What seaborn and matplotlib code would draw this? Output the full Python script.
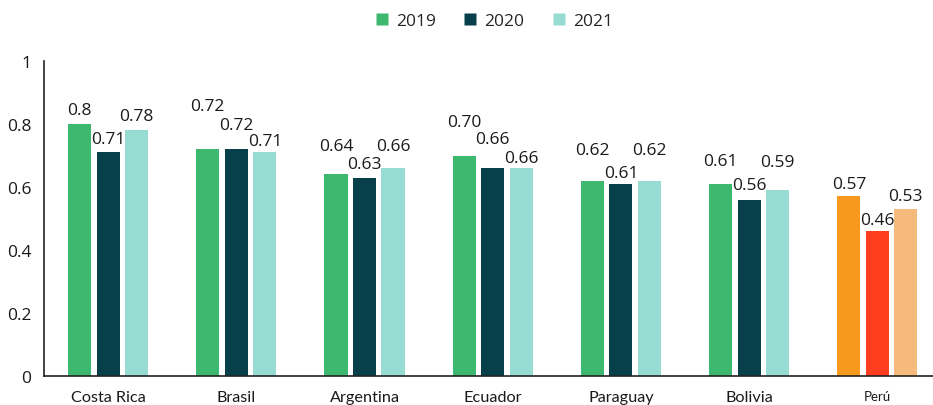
import matplotlib
matplotlib.use("Agg")
import matplotlib.pyplot as plt
from matplotlib.lines import Line2D
import seaborn as sns
import pandas as pd

countries = ["Costa Rica", "Brasil", "Argentina", "Ecuador", "Paraguay", "Bolivia", "Perú"]
years = ["2019", "2020", "2021"]
v2019 = [0.80, 0.72, 0.64, 0.70, 0.62, 0.61, 0.57]
v2020 = [0.71, 0.72, 0.63, 0.66, 0.61, 0.56, 0.46]
v2021 = [0.78, 0.71, 0.66, 0.66, 0.62, 0.59, 0.53]
label_text = {
    "2019": ["0.8", "0.72", "0.64", "0.70", "0.62", "0.61", "0.57"],
    "2020": ["0.71", "0.72", "0.63", "0.66", "0.61", "0.56", "0.46"],
    "2021": ["0.78", "0.71", "0.66", "0.66", "0.62", "0.59", "0.53"],
}
# label vertical offsets (pixels above bar top), per year
label_off = {
    "2019": [14, 43, 28, 34, 31, 23, 12],
    "2020": [13, 24, 14, 29, 11, 15, 11],
    "2021": [14, 11, 22, 10, 31, 28, 13],
}

colors = {"2019": "#3CB96E", "2020": "#07404A", "2021": "#96DCD3"}
peru_colors = {"2019": "#F7991C", "2020": "#FF3D1F", "2021": "#F5BA7C"}

df = pd.DataFrame({
    "country": countries * 3,
    "year": [y for y in years for _ in countries],
    "value": v2019 + v2020 + v2021,
})

sns.set_style("white")
plt.rcParams["font.family"] = ["Open Sans", "DejaVu Sans"]

fig = plt.figure(figsize=(9.33, 4.06), dpi=100)
ax = fig.add_axes([44 / 933, 1 - 377 / 406, 1 - 44 / 933, (377 - 62) / 406])

sns.barplot(data=df, x="country", y="value", hue="year", order=countries,
            hue_order=years, palette=colors, width=0.667, gap=0.19,
            saturation=1, ax=ax, legend=False, errorbar=None)

for cont, yr in zip(ax.containers, years):
    for i, bar in enumerate(cont):
        if countries[i] == "Perú":
            bar.set_facecolor(peru_colors[yr])
        bar.set_edgecolor("none")
        x = bar.get_x() + bar.get_width() / 2
        h = bar.get_height()
        ax.annotate(label_text[yr][i], (x, h), xytext=(0, label_off[yr][i]),
                    textcoords="offset pixels", ha="center", va="center",
                    fontsize=12.5, color="#1a1a1a")

ax.set_ylim(0, 1)
ax.set_xlim(-0.5, 6.434)
ax.set_yticks([0, 0.2, 0.4, 0.6, 0.8, 1])
ax.set_yticklabels(["0", "0.2", "0.4", "0.6", "0.8", "1"])
ax.set_xlabel("")
ax.set_ylabel("")
for s in ["top", "right"]:
    ax.spines[s].set_visible(False)
for s in ["left", "bottom"]:
    ax.spines[s].set_color("#222222")
    ax.spines[s].set_linewidth(1.2)
ax.tick_params(axis="y", length=0, labelsize=12.5, pad=9, colors="#1a1a1a")
ax.tick_params(axis="x", length=0, labelsize=11.7, pad=10, colors="#1a1a1a")
for t in ax.get_xticklabels():
    t.set_family(["Lato", "DejaVu Sans"])
    if t.get_text() == "Perú":
        t.set_fontsize(9.5)

handles = [Line2D([0], [0], marker="s", linestyle="none", markersize=9,
                  markerfacecolor=colors[y], markeredgecolor="none") for y in years]
fig.legend(handles, years, loc="center", bbox_to_anchor=(493 / 933, 1 - 22 / 406),
           ncol=3, frameon=False, fontsize=12.5, handletextpad=0.3,
           columnspacing=1.5, handlelength=1.0)

fig.savefig("out.png", dpi=100)
